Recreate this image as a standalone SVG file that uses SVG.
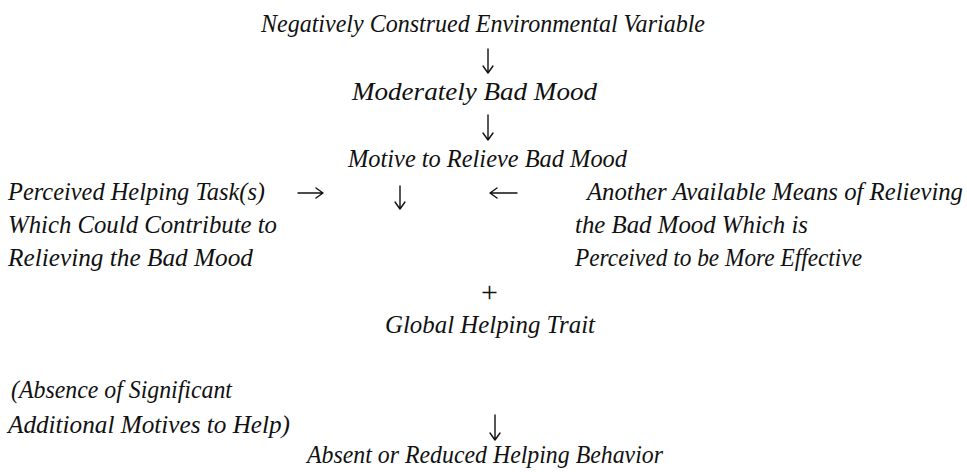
<svg xmlns="http://www.w3.org/2000/svg" width="967" height="472" viewBox="0 0 967 472">
<style>
text{font-family:"Liberation Serif","Times New Roman",serif;font-style:italic;font-size:25px;fill:#111}
.up{font-style:normal;font-size:30px;font-weight:normal}
.ar{fill:none;stroke:#111;stroke-width:1.4;stroke-linecap:round;stroke-linejoin:round}
</style>
<rect width="967" height="472" fill="#fff"/>
<g id="n-env"><text x="261" y="32" textLength="444" lengthAdjust="spacingAndGlyphs">Negatively Construed Environmental Variable</text></g>
<g id="n-mood"><text x="352" y="100" textLength="245" lengthAdjust="spacingAndGlyphs">Moderately Bad Mood</text></g>
<g id="n-motive"><text x="348" y="167" textLength="279" lengthAdjust="spacingAndGlyphs">Motive to Relieve Bad Mood</text></g>
<g id="n-task">
<text x="8" y="200" textLength="257" lengthAdjust="spacingAndGlyphs">Perceived Helping Task(s)</text>
<text x="8" y="233" textLength="269" lengthAdjust="spacingAndGlyphs">Which Could Contribute to</text>
<text x="8" y="266" textLength="245" lengthAdjust="spacingAndGlyphs">Relieving the Bad Mood</text>
</g>
<g id="n-another">
<text x="587" y="200" textLength="376" lengthAdjust="spacingAndGlyphs">Another Available Means of Relieving</text>
<text x="575" y="233" textLength="233" lengthAdjust="spacingAndGlyphs">the Bad Mood Which is</text>
<text x="575" y="266" textLength="287" lengthAdjust="spacingAndGlyphs">Perceived to be More Effective</text>
</g>
<g id="n-plus"><text class="up" x="489.5" y="302" text-anchor="middle">+</text></g>
<g id="n-trait"><text x="385" y="333" textLength="210" lengthAdjust="spacingAndGlyphs">Global Helping Trait</text></g>
<g id="n-absence">
<text x="11" y="398" textLength="221" lengthAdjust="spacingAndGlyphs">(Absence of Significant</text>
<text x="8" y="433" textLength="282" lengthAdjust="spacingAndGlyphs">Additional Motives to Help)</text>
</g>
<g id="n-behavior"><text x="307" y="463" textLength="356" lengthAdjust="spacingAndGlyphs">Absent or Reduced Helping Behavior</text></g>
<g id="connectors">
<path class="ar" d="M488 49V73M483 66L488 73L493 66"/>
<path class="ar" d="M488 115V140M483 133L488 140L493 133"/>
<path class="ar" d="M400 186V209M395 202L400 209L405 202"/>
<path class="ar" d="M298 193H323M316 188L323 193L316 198"/>
<path class="ar" d="M517 193H490M497 188L490 193L497 198"/>
<path class="ar" d="M495 415V440M490 433L495 440L500 433"/>
</g>
</svg>
